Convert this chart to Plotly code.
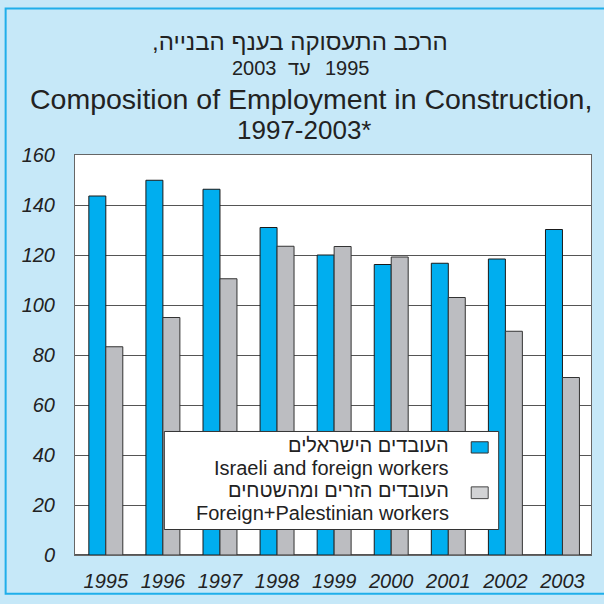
import plotly.graph_objects as go

years = ["1995", "1996", "1997", "1998", "1999", "2000", "2001", "2002", "2003"]
israeli = [143.6, 149.9, 146.3, 131.0, 120.0, 116.2, 116.7, 118.4, 130.2]
foreign = [83.3, 95.0, 110.5, 123.5, 123.4, 119.2, 103.0, 89.5, 71.0]
y_ticks = [0, 20, 40, 60, 80, 100, 120, 140, 160]

name_israeli_he = "העובדים הישראלים"
name_israeli_en = "Israeli and foreign workers"
name_foreign_he = "העובדים הזרים ומהשטחים"
name_foreign_en = "Foreign+Palestinian workers"

title_he1 = "הרכב התעסוקה בענף הבנייה,\u200f"
title_he2_parts = ["2003", "עד", "1995"]
title_en1 = "Composition of Employment in Construction,"
title_en2 = "1997-2003*"

W, H = 604, 604
L, R, T, B = 75, 592, 155, 563

def px(x):
    return (x - L) / (R - L)

def py(y):
    return (B - y) / (B - T)

BLUE = "#00AEEF"
GRAY = "#BCBDC1"
BG = "#C6E8F8"
FONT = "Liberation Sans, Arial, sans-serif"

fig = go.Figure()
fig.add_trace(go.Bar(x=years, y=israeli, name=name_israeli_en,
                     marker=dict(color=BLUE, line=dict(color="#1a1a1a", width=1))))
fig.add_trace(go.Bar(x=years, y=foreign, name=name_foreign_en,
                     marker=dict(color=GRAY, line=dict(color="#333333", width=1))))

shapes = []
# outer frame of figure
shapes.append(dict(type="rect", xref="paper", yref="paper",
                   x0=px(5.5), x1=px(640), y0=py(5.5), y1=py(602.5),
                   line=dict(color="#1FAEEA", width=2), fillcolor="rgba(0,0,0,0)", layer="below"))
# legend box
shapes.append(dict(type="rect", xref="paper", yref="paper",
                   x0=px(164.5), x1=px(499.5), y0=py(537), y1=py(437),
                   line=dict(color="#333333", width=1), fillcolor="white", layer="above"))
shapes.append(dict(type="rect", xref="paper", yref="paper",
                   x0=px(472), x1=px(489), y0=py(459), y1=py(447.5),
                   line=dict(color="#333333", width=1), fillcolor=BLUE, layer="above"))
shapes.append(dict(type="rect", xref="paper", yref="paper",
                   x0=px(472), x1=px(489), y0=py(505.5), y1=py(493.5),
                   line=dict(color="#444444", width=1), fillcolor="#D2D3D5", layer="above"))

ann = []
def text(x, y, s, size, anchor="center", color="#222222", family=FONT):
    ann.append(dict(x=px(x), y=py(y), xref="paper", yref="paper", text=s, showarrow=False,
                    xanchor=anchor, yanchor="middle", font=dict(size=size, color=color, family=family)))

text(300, 39, title_he1, 24)
text(279, 66, title_he2_parts[0], 20, anchor="right")
text(300, 66, title_he2_parts[1], 20)
text(323, 66, title_he2_parts[2], 20, anchor="left")
text(311, 98, title_en1, 28.5)
text(304, 130, title_en2, 26)

text(452, 451, name_israeli_he, 20, anchor="right")
text(452, 474, name_israeli_en, 20, anchor="right")
text(452, 497, name_foreign_he, 20, anchor="right")
text(452, 520, name_foreign_en, 20, anchor="right")

# value labels for last year
last = len(years) - 1
ann.append(dict(x=years[last], y=israeli[last], xref="x", yref="y", text=f"{israeli[last]:.1f}",
                showarrow=False, xshift=-3, yshift=1, yanchor="bottom",
                font=dict(size=13, color="#222222", family="DejaVu Sans Condensed, DejaVu Sans")))
ann.append(dict(x=years[last], y=foreign[last], xref="x", yref="y", text=f"{foreign[last]:.0f}",
                showarrow=False, xshift=12, yshift=1, yanchor="bottom",
                font=dict(size=13, color="#222222", family="DejaVu Sans Condensed, DejaVu Sans")))

fig.update_layout(
    width=W, height=H,
    margin=dict(l=L, r=W - R, t=T, b=H - B, pad=0),
    paper_bgcolor=BG, plot_bgcolor="white",
    barmode="group", bargap=0.405, bargroupgap=0,
    showlegend=False,
    shapes=shapes, annotations=ann,
    font=dict(family=FONT, color="#222222"),
)
fig.update_xaxes(range=[-0.54, 8.5], showgrid=False, showline=True, linecolor="#666666",
                 linewidth=1, mirror=True, ticks="", ticklabelstandoff=8,
                 tickfont=dict(size=20, family=FONT, style="italic", color="#222222"))
fig.update_yaxes(range=[0, 160], tickvals=y_ticks, showgrid=True, gridcolor="#555555", gridwidth=1,
                 showline=True, linecolor="#666666", linewidth=1, mirror=True,
                 zeroline=True, zerolinecolor="#555555", zerolinewidth=2,
                 ticks="", ticklabelstandoff=15,
                 tickfont=dict(size=20, family=FONT, style="italic", color="#222222"))

fig.write_html("out.html", config={"displayModeBar": False},
               post_script="document.body.style.margin='0px';document.body.style.overflow='hidden';")
